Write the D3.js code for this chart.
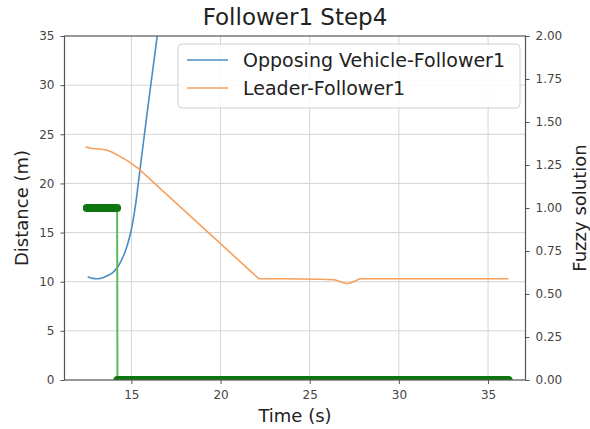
<!DOCTYPE html>
<html>
<head>
<meta charset="utf-8">
<script src="https://cdn.jsdelivr.net/npm/d3@7"></script>
<style>
  html, body { margin: 0; padding: 0; background: #fff; }
  svg { display: block; font-family: "DejaVu Sans", sans-serif; }
</style>
</head>
<body>
<svg id="chart" width="590" height="429"></svg>
<script>
// Opposing vehicle to follower distance (m) over time (s)
const opposingTime = [12.55, 12.8, 13.1, 13.4, 13.7, 14.0, 14.3, 14.65, 14.95, 15.2, 15.4, 15.9, 16.45, 16.8];
const opposingDist = [10.5, 10.35, 10.3, 10.4, 10.65, 11.0, 11.7, 13.05, 14.9, 17.4, 20.2, 27.4, 35.0, 40.0];

// Leader to follower distance (m) over time (s)
const leaderTime = [12.42, 12.8, 13.2, 13.6, 13.9, 14.3, 14.8, 15.4, 22.15, 23.5, 25.5, 26.4, 26.8, 27.1, 27.4, 27.8, 30.0, 33.0, 36.15];
const leaderDist = [23.7, 23.55, 23.5, 23.4, 23.2, 22.8, 22.3, 21.5, 10.3, 10.3, 10.25, 10.2, 9.95, 9.8, 9.95, 10.3, 10.3, 10.3, 10.3];

// Fuzzy controller output over time (s)
const fuzzyTime = [12.5, 14.2, 14.22, 36.15];
const fuzzyValue = [1, 1, 0, 0];

// Axis ticks
const xTicks = [15, 20, 25, 30, 35];
const yLeftTicks = [0, 5, 10, 15, 20, 25, 30, 35];
const yRightTicks = [0, 0.25, 0.5, 0.75, 1.0, 1.25, 1.5, 1.75, 2.0];

const seriesNames = ["Opposing Vehicle-Follower1", "Leader-Follower1"];
const seriesColors = ["#4a8cc2", "#f5a05c"];

const svg = d3.select("#chart");
const plot = { left: 64.5, right: 525.5, top: 36, bottom: 380 };

const x = d3.scaleLinear().domain([11.25, 37.1]).range([plot.left, plot.right]);
const yL = d3.scaleLinear().domain([0, 35]).range([plot.bottom, plot.top]);
const yR = d3.scaleLinear().domain([0, 2]).range([plot.bottom, plot.top]);

svg.append("defs").append("clipPath").attr("id", "plotClip")
  .append("rect")
  .attr("x", plot.left).attr("y", plot.top)
  .attr("width", plot.right - plot.left).attr("height", plot.bottom - plot.top);

// grid
const grid = svg.append("g").attr("stroke", "#d4d4d4").attr("stroke-width", 1);
grid.selectAll("line.v").data(xTicks).join("line")
  .attr("x1", d => x(d)).attr("x2", d => x(d))
  .attr("y1", plot.top).attr("y2", plot.bottom);
grid.selectAll("line.h").data(yLeftTicks.slice(1, -1)).join("line")
  .attr("x1", plot.left).attr("x2", plot.right)
  .attr("y1", d => yL(d)).attr("y2", d => yL(d));

const marks = svg.append("g").attr("clip-path", "url(#plotClip)");

marks.append("path")
  .datum(opposingTime.map((t, i) => [t, opposingDist[i]]))
  .attr("d", d3.line().x(d => x(d[0])).y(d => yL(d[1])).curve(d3.curveCatmullRom))
  .attr("fill", "none")
  .attr("stroke", seriesColors[0]).attr("stroke-width", 1.6);

marks.append("path")
  .datum(leaderTime.map((t, i) => [t, leaderDist[i]]))
  .attr("d", d3.line().x(d => x(d[0])).y(d => yL(d[1])))
  .attr("fill", "none")
  .attr("stroke", seriesColors[1]).attr("stroke-width", 1.6);

// fuzzy output: thin connecting line plus heavy runs where the value holds
const fuzzyPts = fuzzyTime.map((t, i) => [t, fuzzyValue[i]]);
marks.append("path")
  .datum(fuzzyPts)
  .attr("d", d3.line().x(d => x(d[0])).y(d => yR(d[1])))
  .attr("fill", "none").attr("stroke", "#5cb85c").attr("stroke-width", 2);

const runs = [];
for (let i = 0; i < fuzzyPts.length - 1; i++) {
  if (fuzzyPts[i][1] === fuzzyPts[i + 1][1]) runs.push([fuzzyPts[i], fuzzyPts[i + 1]]);
}
marks.selectAll("line.run").data(runs).join("line")
  .attr("x1", d => x(d[0][0])).attr("x2", d => x(d[1][0]))
  .attr("y1", d => yR(d[0][1])).attr("y2", d => yR(d[1][1]))
  .attr("stroke", "#0e760e").attr("stroke-width", 8).attr("stroke-linecap", "round");

// axes
const axisColor = "#555";
const tickFont = 12;

const gx = svg.append("g").attr("transform", `translate(0,${plot.bottom})`)
  .call(d3.axisBottom(x).tickValues(xTicks).tickSize(4).tickPadding(6).tickFormat(d3.format("d")));
const gl = svg.append("g").attr("transform", `translate(${plot.left},0)`)
  .call(d3.axisLeft(yL).tickValues(yLeftTicks).tickSize(4).tickPadding(6).tickFormat(d3.format("d")));
const gr = svg.append("g").attr("transform", `translate(${plot.right},0)`)
  .call(d3.axisRight(yR).tickValues(yRightTicks).tickSize(4).tickPadding(6).tickFormat(d3.format(".2f")));

[gx, gl, gr].forEach(g => {
  g.select(".domain").remove();
  g.selectAll(".tick line").attr("stroke", axisColor);
  g.selectAll(".tick text").attr("fill", "#444").style("font-size", tickFont + "px")
    .style("font-family", "DejaVu Sans, sans-serif");
});

// frame
svg.append("rect")
  .attr("x", plot.left).attr("y", plot.top)
  .attr("width", plot.right - plot.left).attr("height", plot.bottom - plot.top)
  .attr("fill", "none").attr("stroke", axisColor).attr("stroke-width", 1.2);

// titles
svg.append("text").attr("x", (plot.left + plot.right) / 2).attr("y", 25)
  .attr("text-anchor", "middle").attr("fill", "#222").style("font-size", "23px")
  .text("Follower1 Step4");
svg.append("text").attr("x", (plot.left + plot.right) / 2).attr("y", 422)
  .attr("text-anchor", "middle").attr("fill", "#222").style("font-size", "18px")
  .text("Time (s)");
svg.append("text")
  .attr("transform", `translate(28,${(plot.top + plot.bottom) / 2}) rotate(-90)`)
  .attr("text-anchor", "middle").attr("fill", "#222").style("font-size", "18px")
  .text("Distance (m)");
svg.append("text")
  .attr("transform", `translate(586,${(plot.top + plot.bottom) / 2}) rotate(-90)`)
  .attr("text-anchor", "middle").attr("fill", "#222").style("font-size", "18px")
  .text("Fuzzy solution");

// legend
const legend = svg.append("g").attr("transform", "translate(178,44)");
legend.append("rect").attr("width", 342).attr("height", 64).attr("rx", 4)
  .attr("fill", "rgba(255,255,255,0.85)").attr("stroke", "#d0d0d0");
seriesNames.forEach((name, i) => {
  const row = legend.append("g").attr("transform", `translate(0,${16 + i * 28})`);
  row.append("line").attr("x1", 9).attr("x2", 50).attr("y1", 0).attr("y2", 0)
    .attr("stroke", seriesColors[i]).attr("stroke-width", 1.6);
  row.append("text").attr("x", 65).attr("y", 7).attr("fill", "#222")
    .style("font-size", "19px").text(name);
});
</script>
</body>
</html>
